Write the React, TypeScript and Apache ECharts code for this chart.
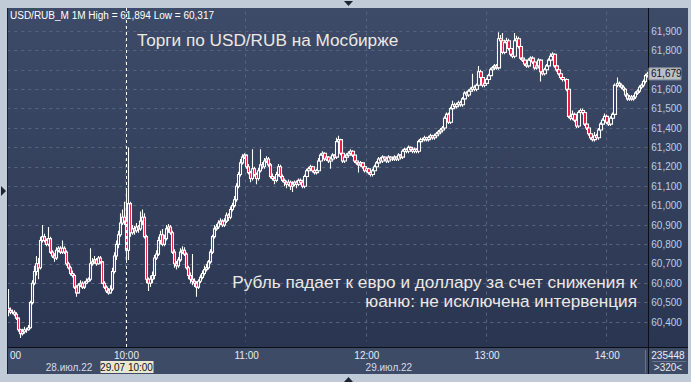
import React, { useEffect, useRef } from "react";
import * as echarts from "echarts";

// Prices in thousandths above 60 (e.g. 470 -> 60.470)
const PRICE_BASE = 60;
const FIRST_OPEN = 470;
const START_MINUTE = 9 * 60 + 1; // first bar 9:01, one bar per minute

const closeMilli = [
  460, 450, 450, 440, 420, 360, 340, 350, 360, 360,
  370, 500, 600, 660, 700, 680, 820, 840, 820, 800,
  830, 760, 740, 730, 770, 780, 760, 780, 760, 700,
  680, 650, 640, 580, 550, 590, 600, 580, 600, 610,
  620, 700, 710, 720, 700, 730, 710, 600, 580, 560,
  550, 570, 660, 740, 800, 850, 910, 940, 920, 770,
  1010, 860, 880, 870, 890, 880, 920, 940, 840, 620,
  600, 620, 640, 730, 750, 820, 850, 800, 830, 880,
  890, 860, 760, 700, 690, 720, 760, 770, 750, 680,
  640, 620, 610, 600, 580, 610, 630, 650, 670, 680,
  710, 760, 840, 880, 890, 910, 920, 900, 920, 950,
  940, 980, 1000, 1030, 1100, 1160, 1220, 1250, 1260, 1200,
  1170, 1140, 1190, 1160, 1140, 1180, 1210, 1200, 1230, 1240,
  1210, 1150, 1140, 1130, 1160, 1200, 1150, 1130, 1120, 1110,
  1120, 1100, 1110, 1120, 1110, 1130, 1120, 1100, 1150, 1180,
  1190, 1200, 1180, 1170, 1180, 1230, 1260, 1270, 1240, 1250,
  1230, 1240, 1260, 1250, 1330, 1340, 1270, 1230, 1250, 1260,
  1270, 1280, 1260, 1230, 1220, 1210, 1220, 1200, 1180, 1190,
  1170, 1160, 1180, 1200, 1220, 1240, 1230, 1250, 1240, 1230,
  1250, 1240, 1240, 1250, 1240, 1260, 1250, 1280, 1290, 1280,
  1300, 1290, 1280, 1290, 1280, 1330, 1340, 1340, 1350, 1340,
  1350, 1360, 1350, 1360, 1370, 1380, 1390, 1400, 1450, 1470,
  1430, 1500, 1520, 1510, 1520, 1530, 1520, 1550, 1580, 1570,
  1590, 1600, 1610, 1600, 1620, 1690, 1660, 1620, 1630, 1650,
  1670, 1700, 1710, 1720, 1710, 1860, 1850, 1790, 1840, 1850,
  1810, 1780, 1770, 1850, 1860, 1820, 1760, 1750, 1730, 1720,
  1750, 1760, 1740, 1710, 1720, 1750, 1690, 1680, 1700, 1720,
  1750, 1770, 1780, 1720, 1700, 1680, 1660, 1650, 1650, 1600,
  1460, 1450, 1470, 1440, 1410, 1480, 1490, 1480, 1420, 1400,
  1370, 1350, 1340, 1360, 1350, 1390, 1420, 1440, 1460, 1430,
  1420, 1450, 1470, 1620, 1630, 1620, 1610, 1600, 1570, 1550,
  1560, 1550, 1560, 1580, 1590, 1610, 1620, 1640, 1670, 1679,
];

const highMilli = [
  570, 475, 465, 460, 450, 425, 365, 365, 375, 370,
  385, 510, 615, 690, 740, 730, 840, 900, 855, 830,
  890, 840, 770, 755, 785, 790, 790, 820, 790, 770,
  710, 690, 665, 650, 590, 600, 615, 610, 610, 625,
  630, 780, 730, 740, 730, 740, 740, 715, 610, 590,
  575, 590, 680, 760, 820, 870, 960, 980, 1020, 1090,
  1300, 1020, 900, 895, 910, 900, 970, 980, 960, 850,
  630, 640, 660, 745, 770, 840, 870, 880, 850, 900,
  905, 900, 870, 775, 715, 735, 780, 790, 785, 760,
  690, 655, 750, 625, 610, 620, 645, 665, 690, 700,
  720, 775, 850, 900, 905, 925, 935, 930, 935, 965,
  960, 995, 1015, 1050, 1115, 1175, 1240, 1265, 1270, 1265,
  1215, 1180, 1290, 1200, 1170, 1195, 1290, 1225, 1245, 1255,
  1250, 1220, 1165, 1150, 1175, 1215, 1210, 1160, 1140, 1130,
  1135, 1130, 1125, 1130, 1130, 1140, 1140, 1125, 1160, 1190,
  1200, 1210, 1205, 1190, 1190, 1245, 1270, 1280, 1275, 1260,
  1255, 1250, 1270, 1265, 1350, 1360, 1345, 1275, 1260, 1270,
  1280, 1290, 1285, 1265, 1235, 1225, 1230, 1225, 1205, 1200,
  1195, 1180, 1190, 1210, 1230, 1250, 1250, 1260, 1255, 1250,
  1260, 1255, 1250, 1260, 1255, 1270, 1265, 1290, 1300, 1295,
  1310, 1305, 1295, 1300, 1295, 1340, 1350, 1350, 1360, 1355,
  1360, 1370, 1365, 1370, 1380, 1390, 1400, 1410, 1460, 1480,
  1480, 1510, 1540, 1530, 1530, 1540, 1540, 1560, 1590, 1590,
  1600, 1610, 1680, 1620, 1630, 1720, 1700, 1670, 1645, 1660,
  1680, 1710, 1720, 1730, 1730, 1894, 1880, 1890, 1855, 1865,
  1860, 1820, 1795, 1890, 1875, 1870, 1830, 1770, 1760, 1740,
  1760, 1770, 1770, 1750, 1730, 1760, 1755, 1700, 1710, 1730,
  1760, 1785, 1790, 1785, 1725, 1705, 1690, 1670, 1660, 1655,
  1605, 1480, 1490, 1480, 1450, 1490, 1500, 1500, 1490, 1430,
  1410, 1380, 1360, 1380, 1370, 1400, 1430, 1450, 1475, 1470,
  1440, 1460, 1480, 1630, 1660, 1640, 1630, 1620, 1605, 1580,
  1570, 1570, 1570, 1590, 1600, 1620, 1630, 1650, 1680, 1690,
];

const lowMilli = [
  430, 440, 440, 430, 410, 350, 317, 330, 340, 345,
  355, 365, 490, 590, 640, 620, 670, 810, 810, 790,
  790, 750, 730, 710, 720, 760, 750, 750, 750, 690,
  670, 640, 630, 570, 530, 545, 580, 570, 570, 595,
  605, 610, 690, 700, 690, 695, 700, 595, 570, 550,
  540, 545, 560, 650, 720, 780, 840, 900, 900, 720,
  720, 840, 850, 850, 860, 860, 870, 900, 830, 600,
  560, 580, 600, 620, 720, 740, 800, 790, 790, 820,
  860, 850, 750, 680, 670, 680, 710, 750, 740, 670,
  620, 600, 590, 580, 530, 570, 600, 620, 640, 660,
  670, 700, 750, 830, 870, 880, 900, 890, 890, 910,
  920, 930, 970, 990, 1020, 1090, 1150, 1210, 1240, 1190,
  1160, 1120, 1130, 1150, 1110, 1130, 1170, 1190, 1190, 1220,
  1200, 1140, 1130, 1110, 1120, 1150, 1140, 1120, 1100, 1090,
  1100, 1080, 1070, 1100, 1090, 1100, 1110, 1090, 1090, 1140,
  1170, 1180, 1170, 1160, 1160, 1170, 1220, 1250, 1230, 1230,
  1220, 1190, 1230, 1240, 1240, 1320, 1260, 1220, 1220, 1240,
  1250, 1260, 1250, 1220, 1210, 1170, 1200, 1190, 1170, 1170,
  1160, 1150, 1150, 1170, 1190, 1210, 1220, 1220, 1230, 1220,
  1220, 1230, 1230, 1230, 1230, 1230, 1240, 1240, 1270, 1270,
  1270, 1280, 1270, 1270, 1270, 1270, 1320, 1330, 1330, 1330,
  1330, 1340, 1340, 1340, 1350, 1360, 1370, 1380, 1390, 1440,
  1420, 1420, 1490, 1500, 1500, 1510, 1510, 1510, 1540, 1560,
  1560, 1580, 1590, 1590, 1590, 1610, 1650, 1610, 1610, 1620,
  1640, 1660, 1690, 1700, 1700, 1700, 1830, 1780, 1780, 1830,
  1800, 1770, 1760, 1760, 1840, 1810, 1750, 1740, 1720, 1710,
  1710, 1740, 1730, 1700, 1700, 1710, 1640, 1670, 1670, 1690,
  1710, 1740, 1760, 1710, 1690, 1670, 1650, 1640, 1640, 1590,
  1450, 1440, 1440, 1430, 1400, 1400, 1470, 1470, 1410, 1390,
  1360, 1340, 1330, 1330, 1340, 1340, 1380, 1410, 1430, 1420,
  1410, 1410, 1440, 1460, 1610, 1610, 1600, 1590, 1560, 1540,
  1540, 1540, 1540, 1550, 1570, 1580, 1600, 1610, 1630, 1660,
];

const Y_MIN = 60.3;
const Y_MAX = 62.0;
const Y_STEP = 0.1;

const SYMBOL = "USD/RUB_M 1M";
const TITLE = "Торги по USD/RUB на Мосбирже";
const NOTE_LINE_1 = "Рубль падает к евро и доллару за счет снижения к";
const NOTE_LINE_2 = "юаню: не исключена интервенция";
const DATE_LABELS = ["28.июл.22", "29.июл.22"];
const CURSOR_TIME = "10:00";
const CURSOR_LABEL = "29.07 10:00";
const VOLUME_TEXT = "235448";
const BARS_TEXT = ">320<";

const toPrice = (m: number) => PRICE_BASE + m / 1000;
const fmt = (v: number) => v.toFixed(3).replace(".", ",");

const categories = closeMilli.map((_, i) => {
  const m = START_MINUTE + i;
  return `${Math.floor(m / 60)}:${String(m % 60).padStart(2, "0")}`;
});

const ohlc = closeMilli.map((c, i) => {
  const o = i === 0 ? FIRST_OPEN : closeMilli[i - 1];
  return [toPrice(o), toPrice(c), toPrice(lowMilli[i]), toPrice(highMilli[i])];
});

const FONT = '"Liberation Sans", Arial, sans-serif';

export default function App() {
  const ref = useRef<HTMLDivElement>(null);
  useEffect(() => {
    if (!ref.current) return;
    const chart = echarts.init(ref.current, undefined, { renderer: "svg" });
    const isHour = (_: number, v: string) => v.endsWith(":00");
    const lastClose = toPrice(closeMilli[closeMilli.length - 1]);
    chart.setOption({
      animation: false,
      backgroundColor: "#c1cbd8",
      grid: { left: 7.3, right: 42.7, top: 11.6, bottom: 40.6 },
      xAxis: {
        type: "category",
        data: categories,
        boundaryGap: true,
        axisLine: { show: false },
        axisTick: { show: false },
        axisLabel: {
          interval: isHour,
          margin: 9,
          color: "#e6ebf3",
          fontSize: 10,
          fontFamily: FONT,
        },
        splitLine: {
          show: true,
          interval: isHour,
          lineStyle: { color: "#56657f", type: [3, 4], width: 1 },
        },
      },
      yAxis: {
        type: "value",
        position: "right",
        min: Y_MIN,
        max: Y_MAX,
        interval: Y_STEP,
        scale: true,
        axisLine: { show: false },
        axisTick: { show: false },
        axisLabel: {
          margin: 3,
          color: "#bccde6",
          fontSize: 10,
          fontFamily: FONT,
          showMinLabel: false,
          showMaxLabel: false,
          // the last-price tag sits on top of the level it covers
          formatter: (v: number) => (Math.abs(v - lastClose) < 0.035 ? "" : fmt(v)),
        },
        splitLine: {
          show: true,
          showMinLine: false,
          showMaxLine: false,
          lineStyle: { color: "#56657f", type: [3, 4], width: 1 },
        },
      },
      series: [
        {
          type: "candlestick",
          data: ohlc,
          barWidth: 3,
          itemStyle: {
            color: "#34405c",
            color0: "#e8143c",
            borderColor: "#ffffff",
            borderColor0: "#ffffff",
            borderWidth: 1.1,
          },
        },
      ],
    });

    const tagY = chart.convertToPixel({ yAxisIndex: 0 }, lastClose) as number;
    const cursorX = Math.round(chart.convertToPixel({ xAxisIndex: 0 }, CURSOR_TIME) as number) + 0.5;
    const hi = toPrice(Math.max(...highMilli));
    const lo = toPrice(Math.min(...lowMilli));
    const xAt = (t: string) => chart.convertToPixel({ xAxisIndex: 0 }, t) as number;

    chart.setOption({
      graphic: [
        {
          type: "rect",
          z: -1,
          silent: true,
          shape: { x: 8, y: 8, width: 680, height: 339 },
          style: {
            fill: new echarts.graphic.LinearGradient(0, 0, 0, 1, [
              { offset: 0, color: "#3e4b68" },
              { offset: 1, color: "#2a3651" },
            ]),
          },
        },
        { type: "rect", z: -1, silent: true, shape: { x: 8, y: 347, width: 680, height: 27 }, style: { fill: "#3e4b67" } },
        { type: "line", z: 5, shape: { x1: 8, y1: 347.5, x2: 688, y2: 347.5 }, style: { stroke: "#0c0f16", lineWidth: 1 } },
        { type: "line", z: 5, shape: { x1: 648.5, y1: 8, x2: 648.5, y2: 374 }, style: { stroke: "#0c0f16", lineWidth: 1 } },
        { type: "line", z: 5, shape: { x1: 7.5, y1: 8, x2: 7.5, y2: 374 }, style: { stroke: "#1a2130", lineWidth: 1 } },
        { type: "line", z: 5, shape: { x1: 645.5, y1: 350, x2: 645.5, y2: 373 }, style: { stroke: "#66738a", lineWidth: 1 } },
        { type: "line", z: 5, shape: { x1: 652, y1: 361.5, x2: 686, y2: 361.5 }, style: { stroke: "#66738a", lineWidth: 1 } },
        // frame markers
        { type: "polygon", z: 5, shape: { points: [[344, 1], [353, 1], [348.5, 6]] }, style: { fill: "#1c2333" } },
        { type: "polygon", z: 5, shape: { points: [[344, 382], [353, 382], [348.5, 377]] }, style: { fill: "#1c2333" } },
        { type: "polygon", z: 5, shape: { points: [[1, 186], [1, 196], [6, 191]] }, style: { fill: "#1c2333" } },
        // header & captions
        {
          type: "text", z: 6, x: 10, y: 15,
          style: { text: `${SYMBOL} High = ${fmt(hi)} Low = ${fmt(lo)}`, fill: "#ffffff", font: `10px ${FONT}`, align: "left", verticalAlign: "middle" },
        },
        {
          type: "text", z: 6, x: 137, y: 40,
          style: { text: TITLE, fill: "#ece8e4", font: `17.2px ${FONT}`, align: "left", verticalAlign: "middle" },
        },
        {
          type: "text", z: 6, x: 637, y: 282,
          style: { text: NOTE_LINE_1, fill: "#ece8e4", font: `17.2px ${FONT}`, align: "right", verticalAlign: "middle" },
        },
        {
          type: "text", z: 6, x: 637, y: 301,
          style: { text: NOTE_LINE_2, fill: "#ece8e4", font: `17.2px ${FONT}`, align: "right", verticalAlign: "middle" },
        },
        // time axis extras
        { type: "text", z: 6, x: 10, y: 355.5, style: { text: "00", fill: "#e6ebf3", font: `10px ${FONT}`, align: "left", verticalAlign: "middle" } },
        { type: "text", z: 6, x: 69, y: 367, style: { text: DATE_LABELS[0], fill: "#d4dcea", font: `10px ${FONT}`, align: "center", verticalAlign: "middle" } },
        { type: "text", z: 6, x: xAt("12:00") + 22, y: 367, style: { text: DATE_LABELS[1], fill: "#d4dcea", font: `10px ${FONT}`, align: "center", verticalAlign: "middle" } },
        // cursor
        { type: "line", z: 20, shape: { x1: cursorX, y1: 8, x2: cursorX, y2: 347 }, style: { stroke: "#ffffff", lineWidth: 1, lineDash: [3, 3] } },
        { type: "rect", z: 20, shape: { x: cursorX - 26, y: 361, width: 53, height: 12 }, style: { fill: "#ebe7d0" } },
        { type: "text", z: 21, x: cursorX, y: 367, style: { text: CURSOR_LABEL, fill: "#111111", font: `10px ${FONT}`, align: "center", verticalAlign: "middle" } },
        // last price tag
        { type: "rect", z: 20, shape: { x: 649, y: tagY - 6, width: 32, height: 12 }, style: { fill: "#b9bfc9", stroke: "#8f97a4", lineWidth: 1 } },
        { type: "text", z: 21, x: 651, y: tagY, style: { text: fmt(lastClose), fill: "#111111", font: `10px ${FONT}`, align: "left", verticalAlign: "middle" } },
        // bottom-right counters
        { type: "text", z: 6, x: 668, y: 355, style: { text: VOLUME_TEXT, fill: "#e6ebf3", font: `10px ${FONT}`, align: "center", verticalAlign: "middle" } },
        { type: "text", z: 6, x: 668, y: 367.5, style: { text: BARS_TEXT, fill: "#e6ebf3", font: `10px ${FONT}`, align: "center", verticalAlign: "middle" } },
      ],
    });

    return () => chart.dispose();
  }, []);

  return (
    <div
      ref={ref}
      style={{ position: "absolute", left: 0, top: 0, width: 691, height: 382 }}
    />
  );
}
